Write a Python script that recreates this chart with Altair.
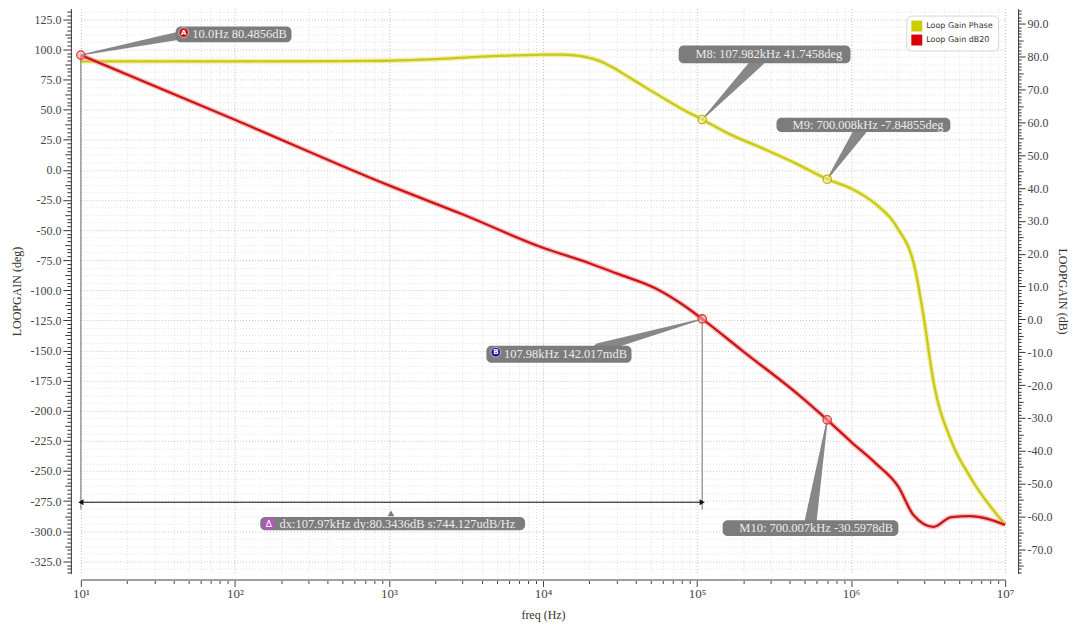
import altair as alt
import pandas as pd

SERIF = "Liberation Serif, DejaVu Serif, serif"
SANS = "DejaVu Sans, sans-serif"

# ---------------- data ----------------
freq_phase = [10, 100, 500, 1000, 2000, 4000, 7000, 10000, 13000, 16000, 19000, 22000, 25000, 28000,
              36000, 46000, 59000, 76000, 107982, 160000, 264000, 434000, 700008,
              1000000, 1460000, 1970000, 2620000, 2950000, 3430000, 4470000, 6000000, 10000000]
phase_deg = [90.0, 90.0, 90.2, 90.5, 91.8, 94.0, 95.0, 95.5, 95.6, 95.0, 93.6, 91.5, 88.6, 85.3,
             77.0, 68.6, 60.3, 52.0, 41.7458, 30.0, 18.0, 5.5, -7.84855,
             -15.5, -29.0, -47.0, -84.0, -121.0, -176.0, -225.0, -256.0, -294.5]

freq_gain = [10, 100, 1000, 3000, 10000, 20000, 30000, 54000, 80000, 107980, 200000,
             457000, 700007, 1000000, 1440000, 2030000, 2540000, 3430000, 4470000, 5950000, 10000000]
gain_db = [80.4856, 60.8, 40.8, 32.0, 21.8, 17.1, 14.0, 9.4, 4.6, 0.142017, -9.8,
           -23.0, -30.5978, -37.3, -43.8, -51.0, -59.6, -63.2, -60.2, -59.9, -62.6]

series_names = ["Loop Gain Phase", "Loop Gain dB20"]
series_colors = ["#c8c81e", "#cc1616"]
legend_colors = ["#cccc00", "#d80000"]

phase_marker_freq = [107982, 700008]
phase_marker_deg = [41.7458, -7.84855]
phase_marker_labels = ["M8: 107.982kHz 41.7458deg", "M9: 700.008kHz -7.84855deg"]

gain_marker_freq = [10.0, 107980, 700007]
gain_marker_db = [80.4856, 0.142017, -30.5978]
gain_marker_labels = ["10.0Hz 80.4856dB", "107.98kHz 142.017mdB", "M10: 700.007kHz -30.5978dB"]
gain_marker_icons = ["A", "B", ""]

delta_label = "dx:107.97kHz dy:80.3436dB s:744.127udB/Hz"
delta_freq = [10.0, 107980]
delta_top_db = [80.4856, 0.142017]

x_tick_values = [m * 10 ** d for d in range(1, 7) for m in range(1, 10)] + [10 ** 7]
deg_tick_values = [i * 3.125 for i in range(-107, 43)]
db_tick_values = list(range(-77, 95))

# annotation placement (data units)
phase_box_f0 = [76000, 328000]
phase_box_f1 = [991000, 4410000]
phase_box_v0 = [88.5, 31.3]
phase_box_v1 = [103.1, 43.2]
phase_text_f = [97600, 417000]
phase_text_v = [95.9, 37.3]
phase_wedge_f = [251000, 1148000]
phase_wedge_v = [90.7, 32.7]

gain_box_f0 = [41.3, 4292, 146700, 146]
gain_box_f1 = [233, 37560, 2027000, 7644]
gain_box_v0 = [84.4, -13.2, -66.0, -64.2]
gain_box_v1 = [89.2, -8.0, -61.2, -60.15]
gain_text_f = [52.9, 5585, 188200, 194.7]
gain_text_v = [86.8, -10.5, -63.6, -62.2]
gain_wedge_f = [50.8, 23070, 545300]
gain_wedge_v = [87.0, -8.7, -61.7]
icon_f = [46.5, 4939]
icon_v = [87.3, -10.0]
icon_colors = ["#c0141c", "#1c1c8c"]
delta_icon_f = [166]
delta_icon_v = [-62.2]
delta_bottom_db = -57.9
delta_arrow_db = -55.7
delta_pointer_f = [1031]
delta_pointer_v = [-59.1]

# ---------------- scales / axes ----------------
dec_test = "abs(log(datum.value)/LN10 - round(log(datum.value)/LN10)) < 0.001"
XSCALE = alt.Scale(type="log", domain=[10, 1e7], nice=False)
XAXIS = alt.Axis(
    title="freq (Hz)", values=x_tick_values, offset=6,
    labelExpr=f"{dec_test} ? '10' + substring('\u2070\u00b9\u00b2\u00b3\u2074\u2075\u2076\u2077', round(log(datum.value)/LN10), round(log(datum.value)/LN10) + 1) : ''",
    labelFont=SERIF, labelFontSize=13, labelColor="#444", labelPadding=1,
    labelOverlap=False, labelFlush=False,
    tickColor="#444",
    tickSize={"condition": {"test": dec_test, "value": 7}, "value": 4},
    domainColor="#a0a0a0", domainWidth=2,
    grid=True, gridDash=[1, 2],
    gridColor={"condition": {"test": dec_test, "value": "#bdbdbd"}, "value": "#e0e0e0"},
    titleFont=SERIF, titleFontSize=12, titleFontWeight="normal", titleColor="#333", titlePadding=9,
)

DEG_SCALE = alt.Scale(domain=[-335.1, 133.8], nice=False, zero=False)
DEG_AXIS = alt.Axis(
    orient="left", title="LOOPGAIN (deg)", values=deg_tick_values, offset=10,
    labelExpr="abs(datum.value % 25) < 0.001 ? datum.value + '.0' : ''",
    labelFont=SERIF, labelFontSize=12, labelColor="#444", labelPadding=2,
    labelOverlap=False, labelFlush=False,
    tickColor="#333",
    tickSize={"condition": [{"test": "abs(datum.value % 25) < 0.001", "value": 8},
                            {"test": "abs(datum.value % 12.5) < 0.001", "value": 6}], "value": 4},
    domainColor="#333", domainWidth=1,
    grid=True, gridDash=[1, 2],
    gridColor={"condition": {"test": "abs(datum.value % 25) < 0.001", "value": "#c4c4c4"}, "value": "#e2e2e2"},
    gridOpacity={"condition": {"test": "abs(datum.value % 6.25) < 0.001", "value": 1}, "value": 0},
    titleFont=SERIF, titleFontSize=12, titleFontWeight="normal", titleColor="#333", titlePadding=6,
)

DB_SCALE = alt.Scale(domain=[-77.4, 94.65], nice=False, zero=False)
DB_AXIS = alt.Axis(
    orient="right", title="LOOPGAIN (dB)", values=db_tick_values, offset=13,
    labelExpr="datum.value % 10 == 0 ? datum.value + '.0' : ''",
    labelFont=SERIF, labelFontSize=12, labelColor="#444", labelPadding=2,
    labelOverlap=False, labelFlush=False,
    tickColor="#333",
    tickSize={"condition": [{"test": "datum.value % 10 == 0", "value": 7},
                            {"test": "datum.value % 5 == 0", "value": 5}], "value": 3},
    domainColor="#333", domainWidth=1,
    grid=False,
    titleFont=SERIF, titleFontSize=12, titleFontWeight="normal", titleColor="#333", titlePadding=3,
)

LEGEND = alt.Legend(
    title=None, orient="top-right", offset=7, padding=5,
    fillColor="white", strokeColor="#d6d6d6", cornerRadius=5,
    labelFont=SANS, labelFontSize=8, labelColor="#333",
    symbolType="square", symbolSize=120, symbolStrokeWidth=0, rowPadding=3, labelOffset=4,
)


def X(f):
    return alt.X(f"{f}:Q", scale=XSCALE, axis=XAXIS)


def YD(f):
    return alt.Y(f"{f}:Q", scale=DEG_SCALE, axis=DEG_AXIS)


def YB(f):
    return alt.Y(f"{f}:Q", scale=DB_SCALE, axis=DB_AXIS)


BOX_COLOR = "#7c7c7c"
TEXT_COLOR = "#ececec"
WEDGE_COLOR = "#878787"
LABEL_SIZE = 12.5

# ---------------- phase group ----------------
phase_df = pd.DataFrame({"freq": freq_phase, "deg": phase_deg})
phase_halo = alt.Chart(phase_df).mark_line(color="#eeee90", strokeWidth=5, opacity=0.8,
                                           interpolate="monotone").encode(x=X("freq"), y=YD("deg"))
phase_line = alt.Chart(phase_df).mark_line(color=series_colors[0], strokeWidth=2.3,
                                           interpolate="monotone").encode(x=X("freq"), y=YD("deg"))

pw_rows = []
for i in range(len(phase_marker_freq)):
    pw_rows.append({"id": i, "freq": phase_wedge_f[i], "deg": phase_wedge_v[i], "w": 12})
    pw_rows.append({"id": i, "freq": phase_marker_freq[i], "deg": phase_marker_deg[i], "w": 1})
phase_wedges = alt.Chart(pd.DataFrame(pw_rows)).mark_trail(color=WEDGE_COLOR).encode(
    x=X("freq"), y=YD("deg"), size=alt.Size("w:Q", scale=None, legend=None), detail="id:N")

pbox_df = pd.DataFrame({"f0": phase_box_f0, "f1": phase_box_f1, "v0": phase_box_v0, "v1": phase_box_v1})
phase_boxes = alt.Chart(pbox_df).mark_rect(color=BOX_COLOR, cornerRadius=5).encode(
    x=X("f0"), x2="f1:Q", y=YD("v0"), y2="v1:Q")
ptext_df = pd.DataFrame({"freq": phase_text_f, "deg": phase_text_v, "label": phase_marker_labels})
phase_texts = alt.Chart(ptext_df).mark_text(align="left", baseline="middle", font=SERIF, fontSize=LABEL_SIZE,
                                            color=TEXT_COLOR).encode(x=X("freq"), y=YD("deg"), text="label:N")
pm_df = pd.DataFrame({"freq": phase_marker_freq, "deg": phase_marker_deg})
phase_markers = alt.Chart(pm_df).mark_point(shape="circle", size=70, fill="#f3f39a", fillOpacity=0.6,
                                            stroke="#b9b90e", strokeWidth=1.3, opacity=1).encode(
    x=X("freq"), y=YD("deg"))

phase_group = alt.layer(phase_halo, phase_line, phase_wedges, phase_boxes, phase_texts, phase_markers)

# ---------------- gain group ----------------
gain_df = pd.DataFrame({"freq": freq_gain, "db": gain_db})
gain_halo = alt.Chart(gain_df).mark_line(color="#f4a5a5", strokeWidth=5, opacity=0.7,
                                         interpolate="monotone").encode(x=X("freq"), y=YB("db"))
gain_line = alt.Chart(gain_df).mark_line(color=series_colors[1], strokeWidth=2.3,
                                         interpolate="monotone").encode(x=X("freq"), y=YB("db"))

# legend carrier: one clipped point per series, lying outside the visible dB range
legend_df = pd.DataFrame({"freq": [10.0, 10.0], "db": [-1000.0, -1000.0], "series": series_names})
legend_layer = alt.Chart(legend_df).mark_square(clip=True, opacity=1).encode(
    x=X("freq"), y=YB("db"),
    color=alt.Color("series:N", scale=alt.Scale(domain=series_names, range=legend_colors), legend=LEGEND))

dv_df = pd.DataFrame({"freq": delta_freq, "top": delta_top_db, "bottom": [delta_bottom_db] * 2})
delta_vert = alt.Chart(dv_df).mark_rule(color="#6e6e6e", strokeWidth=1).encode(
    x=X("freq"), y=YB("top"), y2="bottom:Q")
dh_df = pd.DataFrame({"f0": [delta_freq[0]], "f1": [delta_freq[1]], "db": [delta_arrow_db]})
delta_horiz = alt.Chart(dh_df).mark_rule(color="#111", strokeWidth=1.2).encode(
    x=X("f0"), x2="f1:Q", y=YB("db"))
arrow_df = pd.DataFrame({"freq": delta_freq, "db": [delta_arrow_db] * 2,
                         "shape": ["triangle-left", "triangle-right"]})
delta_arrows = alt.Chart(arrow_df).mark_point(filled=True, color="#111", size=35, opacity=1).encode(
    x=X("freq"), y=YB("db"), shape=alt.Shape("shape:N", scale=None, legend=None))

gw_rows = []
for i in range(len(gain_marker_freq)):
    gw_rows.append({"id": i, "freq": gain_wedge_f[i], "db": gain_wedge_v[i], "w": [9, 10, 12][i]})
    gw_rows.append({"id": i, "freq": gain_marker_freq[i], "db": gain_marker_db[i], "w": 1})
gain_wedges = alt.Chart(pd.DataFrame(gw_rows)).mark_trail(color=WEDGE_COLOR).encode(
    x=X("freq"), y=YB("db"), size=alt.Size("w:Q", scale=None, legend=None), detail="id:N")

pointer_df = pd.DataFrame({"freq": delta_pointer_f, "db": delta_pointer_v})
delta_pointer = alt.Chart(pointer_df).mark_point(shape="triangle-up", filled=True, color=BOX_COLOR,
                                                 size=45, opacity=1).encode(x=X("freq"), y=YB("db"))

gbox_df = pd.DataFrame({"f0": gain_box_f0, "f1": gain_box_f1, "v0": gain_box_v0, "v1": gain_box_v1})
gain_boxes = alt.Chart(gbox_df).mark_rect(color=BOX_COLOR, cornerRadius=5).encode(
    x=X("f0"), x2="f1:Q", y=YB("v0"), y2="v1:Q")
gtext_df = pd.DataFrame({"freq": gain_text_f, "db": gain_text_v,
                         "label": gain_marker_labels + [delta_label]})
gain_texts = alt.Chart(gtext_df).mark_text(align="left", baseline="middle", font=SERIF, fontSize=LABEL_SIZE,
                                           color=TEXT_COLOR).encode(x=X("freq"), y=YB("db"), text="label:N")

icon_df = pd.DataFrame({"freq": icon_f, "db": icon_v, "c": icon_colors, "t": gain_marker_icons[:2]})
icons = alt.Chart(icon_df).mark_point(shape="circle", filled=True, size=95, opacity=1,
                                      stroke="#ffffff", strokeWidth=0.6).encode(
    x=X("freq"), y=YB("db"), fill=alt.Fill("c:N", scale=None, legend=None))
icon_letters = alt.Chart(icon_df).mark_text(font=SANS, fontSize=7, fontWeight="bold", color="white",
                                            baseline="middle", align="center").encode(
    x=X("freq"), y=YB("db"), text="t:N")
dicon_df = pd.DataFrame({"freq": delta_icon_f, "db": delta_icon_v, "t": ["\u0394"]})
delta_icon = alt.Chart(dicon_df).mark_point(shape="square", filled=True, color="#b058b6", size=130,
                                            opacity=1).encode(x=X("freq"), y=YB("db"))
delta_icon_text = alt.Chart(dicon_df).mark_text(font=SANS, fontSize=9, color="white", baseline="middle",
                                                align="center").encode(x=X("freq"), y=YB("db"), text="t:N")

gm_df = pd.DataFrame({"freq": gain_marker_freq, "db": gain_marker_db})
gain_markers = alt.Chart(gm_df).mark_point(shape="circle", size=70, fill="#f5a3a3", fillOpacity=0.55,
                                           stroke="#dd3a3a", strokeWidth=1.3, opacity=1).encode(
    x=X("freq"), y=YB("db"))

gain_group = alt.layer(gain_halo, gain_line, legend_layer, delta_vert, delta_horiz, delta_arrows,
                       gain_wedges, delta_pointer, gain_boxes, gain_texts, icons, icon_letters,
                       delta_icon, delta_icon_text, gain_markers)

chart = alt.layer(phase_group, gain_group).resolve_scale(y="independent").properties(
    width=926, height=566,
    padding={"left": 73, "top": 0, "right": 66, "bottom": 52},
    autosize=alt.AutoSizeParams(type="none"),
    background="white",
).configure_view(stroke=None)

chart.save("out.html", embed_options={"renderer": "svg", "actions": False})
